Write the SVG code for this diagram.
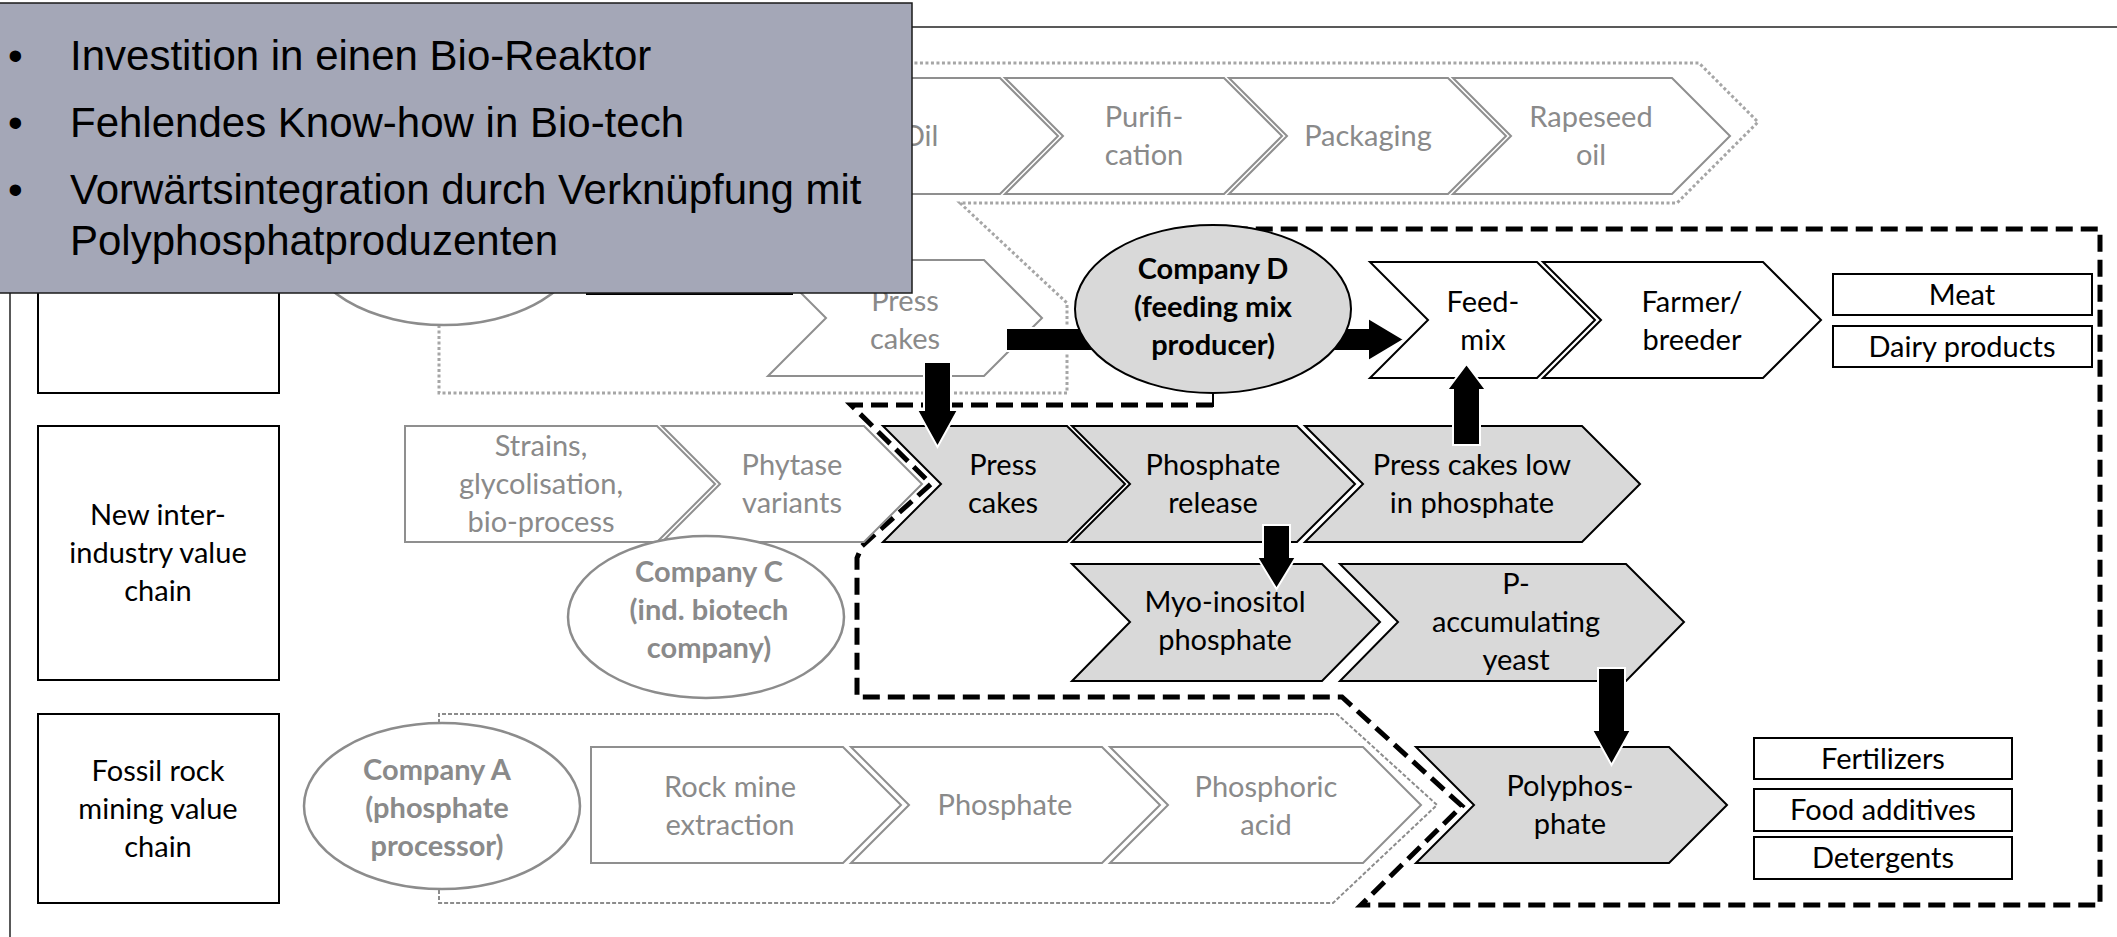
<svg xmlns="http://www.w3.org/2000/svg" width="2117" height="937" viewBox="0 0 2117 937">
  <defs>
    <style>
      .t { font-family: Lato, "Open Sans", sans-serif; font-size: 29px; text-anchor: middle; fill: #000; }
      .tg { font-family: Lato, "Open Sans", sans-serif; font-size: 29px; text-anchor: middle; fill: #8a8a8a; }
      .tb { font-family: Lato, "Open Sans", sans-serif; font-size: 29px; font-weight: bold; text-anchor: middle; fill: #000; }
      .tbg { font-family: Lato, "Open Sans", sans-serif; font-size: 29px; font-weight: bold; text-anchor: middle; fill: #8a8a8a; }
      .chev-old { fill: #fff; stroke: #8f8f8f; stroke-width: 2; stroke-linejoin: miter; }
      .chev-new { fill: #fff; stroke: #000; stroke-width: 2; }
      .chev-core { fill: #d9d9d9; stroke: #000; stroke-width: 2; }
      .box { fill: #fff; stroke: #000; stroke-width: 2; }
      .firm-old { fill: #fff; stroke: #8c8c8c; stroke-width: 2.5; }
      .firm-new { fill: #d9d9d9; stroke: #000; stroke-width: 2; }
      .dotted { fill: none; stroke: #a6a6a6; stroke-width: 3; stroke-dasharray: 3 2.5; }
      .dashed-thin { fill: none; stroke: #8c8c8c; stroke-width: 2; stroke-dasharray: 4 2; }
      .dashed-bold { fill: none; stroke: #000; stroke-width: 5; stroke-dasharray: 17 8; }
      .flow { fill: #000; stroke: #fff; stroke-width: 2; }
      .bullet { font-family: "Liberation Sans", Arial, sans-serif; font-size: 42px; fill: #000; }
    </style>
  </defs>

  <rect x="0" y="0" width="2117" height="937" fill="#fff"/>

  <!-- frame -->
  <g id="frame" fill="none" stroke="#222" stroke-width="1.5">
    <line x1="10" y1="27" x2="2117" y2="27"/>
    <line x1="10" y1="27" x2="10" y2="937"/>
  </g>

  <!-- boundaries of the value chains -->
  <g id="boundaries">
    <path class="dotted" d="M439,325 L439,393 L1067,393 L1067,303 L960,203 L1677,203 L1758,122 L1699,63 L439,63 L439,159"/>
    <path class="dashed-thin" d="M439,723 L439,714 L1337,714 L1437,805 L1333,903 L439,903 L439,889"/>
    <path class="dashed-bold" d="M1213,405 L851,405 L931,484 L862,546 L857,558 L857,697 L1342,697 L1462,806 L1361,905 L2100,905 L2100,229 L1213,229"/>
    <line x1="1213" y1="393" x2="1213" y2="407" stroke="#000" stroke-width="2"/>
    <line x1="1213" y1="224" x2="1213" y2="229" stroke="#000" stroke-width="2"/>
  </g>

  <!-- row labels -->
  <g id="label-oil">
    <rect class="box" x="38" y="60" width="241" height="333"/>
  </g>
  <g id="label-new">
    <rect class="box" x="38" y="426" width="241" height="254"/>
    <text class="t" x="158" y="525">New inter-</text>
    <text class="t" x="158" y="563">industry value</text>
    <text class="t" x="158" y="601">chain</text>
  </g>
  <g id="label-fossil">
    <rect class="box" x="38" y="714" width="241" height="189"/>
    <text class="t" x="158" y="781">Fossil rock</text>
    <text class="t" x="158" y="819">mining value</text>
    <text class="t" x="158" y="857">chain</text>
  </g>

  <!-- rapeseed oil chain -->
  <g id="oil">
    <polygon class="chev-old" points="781,78 1000,78 1058,136 1000,194 781,194 839,136"/>
    <text class="tg" x="920" y="146">Oil</text>
  </g>
  <g id="purification">
    <polygon class="chev-old" points="1005,78 1224,78 1282,136 1224,194 1005,194 1063,136"/>
    <text class="tg" x="1144" y="127">Purifi-</text>
    <text class="tg" x="1144" y="165">cation</text>
  </g>
  <g id="packaging">
    <polygon class="chev-old" points="1229,78 1448,78 1506,136 1448,194 1229,194 1287,136"/>
    <text class="tg" x="1368" y="146">Packaging</text>
  </g>
  <g id="rapeseed-oil">
    <polygon class="chev-old" points="1453,78 1672,78 1730,136 1672,194 1453,194 1511,136"/>
    <text class="tg" x="1591" y="127">Rapeseed</text>
    <text class="tg" x="1591" y="165">oil</text>
  </g>
  <g id="company-b">
    <ellipse class="firm-old" cx="444" cy="242" rx="138" ry="83"/>
  </g>
  <g id="press-cakes-oil">
    <polygon class="chev-old" points="768,260 984,260 1042,318 984,376 768,376 826,318"/>
    <text class="tg" x="905" y="311">Press</text>
    <text class="tg" x="905" y="349">cakes</text>
  </g>

  <!-- feed chain -->
  <g id="feed-mix">
    <polygon class="chev-new" points="1370,262 1537,262 1595,320 1537,378 1370,378 1428,320"/>
    <text class="t" x="1483" y="312">Feed-</text>
    <text class="t" x="1483" y="350">mix</text>
  </g>
  <g id="farmer">
    <polygon class="chev-new" points="1543,262 1763,262 1821,320 1763,378 1543,378 1601,320"/>
    <text class="t" x="1692" y="312">Farmer/</text>
    <text class="t" x="1692" y="350">breeder</text>
  </g>
  <g id="meat">
    <rect class="box" x="1833" y="274" width="259" height="41"/>
    <text class="t" x="1962" y="305">Meat</text>
  </g>
  <g id="dairy">
    <rect class="box" x="1833" y="326" width="259" height="41"/>
    <text class="t" x="1962" y="357">Dairy products</text>
  </g>

  <!-- new inter-industry chain -->
  <g id="strains">
    <polygon class="chev-old" points="405,426 657,426 715,484 657,542 405,542"/>
    <text class="tg" x="541" y="456">Strains,</text>
    <text class="tg" x="541" y="494">glycolisation,</text>
    <text class="tg" x="541" y="532">bio-process</text>
  </g>
  <g id="phytase">
    <polygon class="chev-old" points="662,426 864,426 922,484 864,542 662,542 720,484"/>
    <text class="tg" x="792" y="475">Phytase</text>
    <text class="tg" x="792" y="513">variants</text>
  </g>
  <g id="press-cakes">
    <polygon class="chev-core" points="883,426 1067,426 1125,484 1067,542 883,542 941,484"/>
    <text class="t" x="1003" y="475">Press</text>
    <text class="t" x="1003" y="513">cakes</text>
  </g>
  <g id="phosphate-release">
    <polygon class="chev-core" points="1072,426 1297,426 1355,484 1297,542 1072,542 1130,484"/>
    <text class="t" x="1213" y="475">Phosphate</text>
    <text class="t" x="1213" y="513">release</text>
  </g>
  <g id="press-cakes-low">
    <polygon class="chev-core" points="1305,426 1582,426 1640,484 1582,542 1305,542 1363,484"/>
    <text class="t" x="1472" y="475">Press cakes low</text>
    <text class="t" x="1472" y="513">in phosphate</text>
  </g>
  <g id="myo-inositol">
    <polygon class="chev-core" points="1072,564 1322,564 1380,622 1322,681 1072,681 1130,622"/>
    <text class="t" x="1225" y="612">Myo-inositol</text>
    <text class="t" x="1225" y="650">phosphate</text>
  </g>
  <g id="yeast">
    <polygon class="chev-core" points="1340,564 1626,564 1684,622 1626,681 1340,681 1398,622"/>
    <text class="t" x="1516" y="594">P-</text>
    <text class="t" x="1516" y="632">accumulating</text>
    <text class="t" x="1516" y="670">yeast</text>
  </g>
  <g id="company-c">
    <ellipse class="firm-old" cx="706" cy="617" rx="138" ry="81"/>
    <text class="tbg" x="709" y="582">Company C</text>
    <text class="tbg" x="709" y="620">(ind. biotech</text>
    <text class="tbg" x="709" y="658">company)</text>
  </g>

  <!-- fossil rock mining chain -->
  <g id="company-a">
    <ellipse class="firm-old" cx="442" cy="806" rx="138" ry="83"/>
    <text class="tbg" x="437" y="780">Company A</text>
    <text class="tbg" x="437" y="818">(phosphate</text>
    <text class="tbg" x="437" y="856">processor)</text>
  </g>
  <g id="rock-mine">
    <polygon class="chev-old" points="591,747 843,747 901,805 843,863 591,863"/>
    <text class="tg" x="730" y="797">Rock mine</text>
    <text class="tg" x="730" y="835">extraction</text>
  </g>
  <g id="phosphate">
    <polygon class="chev-old" points="851,747 1102,747 1160,805 1102,863 851,863 909,805"/>
    <text class="tg" x="1005" y="815">Phosphate</text>
  </g>
  <g id="phosphoric-acid">
    <polygon class="chev-old" points="1110,747 1363,747 1421,805 1363,863 1110,863 1168,805"/>
    <text class="tg" x="1266" y="797">Phosphoric</text>
    <text class="tg" x="1266" y="835">acid</text>
  </g>
  <g id="polyphosphate">
    <polygon class="chev-core" points="1416,747 1669,747 1727,805 1669,863 1416,863 1474,805"/>
    <text class="t" x="1570" y="796">Polyphos-</text>
    <text class="t" x="1570" y="834">phate</text>
  </g>
  <g id="fertilizers">
    <rect class="box" x="1754" y="738" width="258" height="41"/>
    <text class="t" x="1883" y="769">Fertilizers</text>
  </g>
  <g id="food-additives">
    <rect class="box" x="1754" y="789" width="258" height="42"/>
    <text class="t" x="1883" y="820">Food additives</text>
  </g>
  <g id="detergents">
    <rect class="box" x="1754" y="837" width="258" height="42"/>
    <text class="t" x="1883" y="868">Detergents</text>
  </g>

  <!-- material flows -->
  <g id="connectors">
    <rect x="586" y="276" width="207" height="19" fill="#000"/>
    <polygon class="flow" points="1006,328 1368,328 1368,318 1404,339.5 1368,361 1368,351 1006,351"/>
    <polygon class="flow" points="924,362 951,362 951,410 958,410 937.5,447 917,410 924,410"/>
    <polygon class="flow" points="1263,525 1290,525 1290,557 1296,557 1276.5,589 1257,557 1263,557"/>
    <polygon class="flow" points="1453,445 1480,445 1480,390 1486,390 1466.5,364 1447,390 1453,390"/>
    <polygon class="flow" points="1598,668 1625,668 1625,730 1631,730 1611.5,765 1592,730 1598,730"/>
  </g>

  <g id="company-d">
    <ellipse class="firm-new" cx="1213" cy="309" rx="138" ry="84"/>
    <text class="tb" x="1213" y="279">Company D</text>
    <text class="tb" x="1213" y="317">(feeding mix</text>
    <text class="tb" x="1213" y="355">producer)</text>
  </g>

  <!-- callout -->
  <g id="callout">
    <rect x="-1" y="3" width="913" height="290" fill="#a4a7b7" stroke="#1a1a1a" stroke-width="1.5"/>
    <text class="bullet" x="8" y="70">•</text>
    <text class="bullet" x="70" y="70">Investition in einen Bio-Reaktor</text>
    <text class="bullet" x="8" y="137">•</text>
    <text class="bullet" x="70" y="137">Fehlendes Know-how in Bio-tech</text>
    <text class="bullet" x="8" y="204">•</text>
    <text class="bullet" x="70" y="204">Vorwärtsintegration durch Verknüpfung mit</text>
    <text class="bullet" x="70" y="255">Polyphosphatproduzenten</text>
  </g>
</svg>
